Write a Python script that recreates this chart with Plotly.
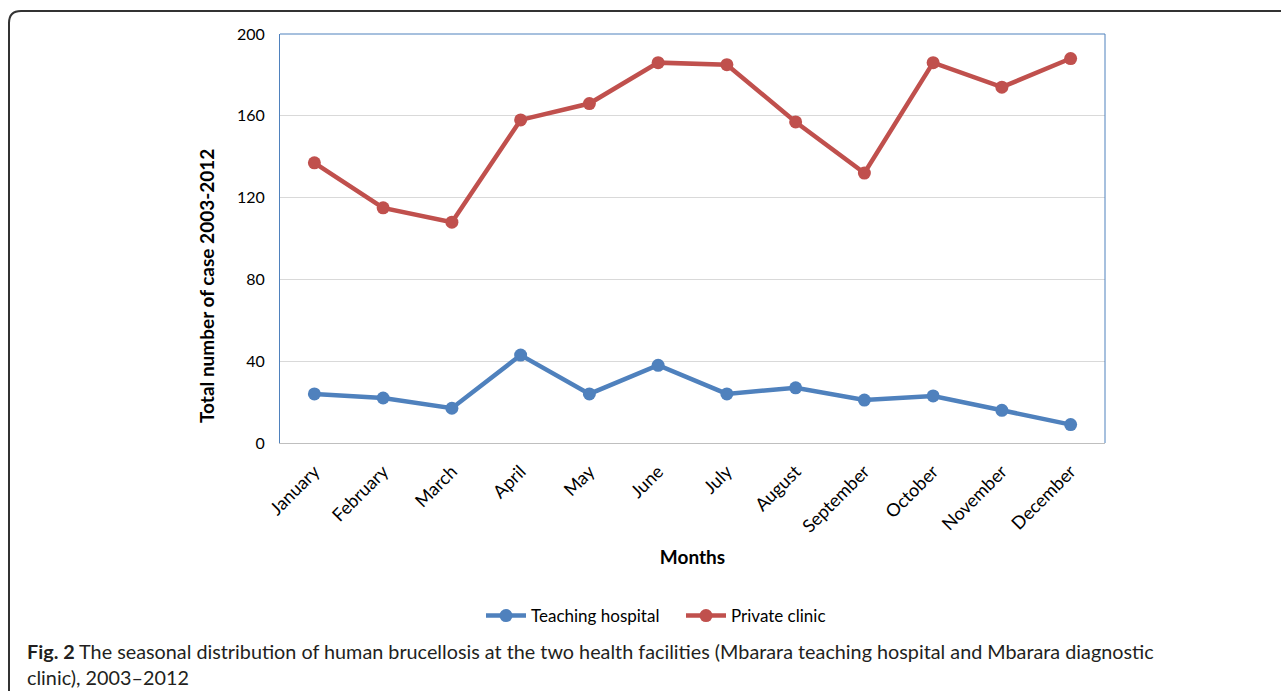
import plotly.graph_objects as go

months = ["January", "February", "March", "April", "May", "June", "July",
          "August", "September", "October", "November", "December"]
teaching_hospital = [24, 22, 17, 43, 24, 38, 24, 27, 21, 23, 16, 9]
private_clinic = [137, 115, 108, 158, 166, 186, 185, 157, 132, 186, 174, 188]
y_ticks = [0, 40, 80, 120, 160, 200]

W, H = 1281, 691
L, R, T, B = 280, 1105, 34, 443  # plot area in pixels


def px(x):
    return (x - L) / (R - L)


def py(y):
    return (B - y) / (B - T)


BLUE = "#4F81BD"
RED = "#C0504D"
FONT = "Lato"

fig = go.Figure()
fig.add_trace(go.Scatter(x=months, y=teaching_hospital, name="Teaching hospital",
                         mode="lines+markers",
                         line=dict(color=BLUE, width=4.5),
                         marker=dict(color=BLUE, size=13)))
fig.add_trace(go.Scatter(x=months, y=private_clinic, name="Private clinic",
                         mode="lines+markers",
                         line=dict(color=RED, width=4.5),
                         marker=dict(color=RED, size=13)))

# rounded frame around the figure (extends beyond right and bottom edges)
x0, y0, rad = 9, 11, 12
x1, y1 = W + 20, H + 20
path = (f"M {px(x0)},{py(y1)} L {px(x0)},{py(y0 + rad)} "
        f"Q {px(x0)},{py(y0)} {px(x0 + rad)},{py(y0)} L {px(x1)},{py(y0)}")

fig.update_layout(
    width=W, height=H,
    margin=dict(l=L, r=W - R, t=T, b=H - B),
    paper_bgcolor="white", plot_bgcolor="white",
    font=dict(family=FONT, size=16, color="black"),
    showlegend=True,
    legend=dict(orientation="h", x=px(681), y=py(616), xanchor="center", yanchor="middle",
                font=dict(family=FONT, size=17), itemwidth=40, tracegroupgap=0,
                entrywidth=145),
    hovermode=False,
    xaxis=dict(type="category", range=[-0.5, 11.5], tickangle=-45,
               showgrid=False, showline=True, linecolor="#BFBFBF", linewidth=1,
               ticks="", tickfont=dict(family=FONT, size=18), ticklabelstandoff=10,
               title=dict(text="<b>Months</b>", font=dict(family=FONT, size=19), standoff=15),
               mirror=False),
    yaxis=dict(range=[0, 200], tickvals=y_ticks, showgrid=True, gridcolor="#D9D9D9",
               gridwidth=1, showline=True, linecolor=BLUE, linewidth=1, mirror=False,
               zeroline=False, ticks="", ticklabelstandoff=11,
               tickfont=dict(family=FONT, size=16)),
    shapes=[
        dict(type="path", xref="paper", yref="paper", path=path,
             line=dict(color="#333333", width=2)),
        dict(type="line", xref="paper", yref="paper", x0=0, x1=1, y0=1, y1=1,
             line=dict(color=BLUE, width=1)),
        dict(type="line", xref="paper", yref="paper", x0=1, x1=1, y0=0, y1=1,
             line=dict(color=BLUE, width=1)),
    ],
    annotations=[
        dict(xref="paper", yref="paper", x=px(206), y=py(286), xanchor="center",
             yanchor="middle", textangle=-90, showarrow=False,
             font=dict(family=FONT, size=19, color="black"),
             text="<b>Total number of case 2003-2012</b>"),
        dict(xref="paper", yref="paper", x=px(25), y=py(637), xanchor="left", yanchor="top",
             align="left", showarrow=False,
             font=dict(family=FONT, size=19.8, color="#231F20"),
             text=("<b>Fig. 2</b> The seasonal distribution of human brucellosis at the two health "
                   "facilities (Mbarara teaching hospital and Mbarara diagnostic<br>"
                   "clinic), 2003\u20132012")),
    ],
)

fig.write_html("out.html", config={"displayModeBar": False},
               post_script="document.body.style.margin='0px';")
